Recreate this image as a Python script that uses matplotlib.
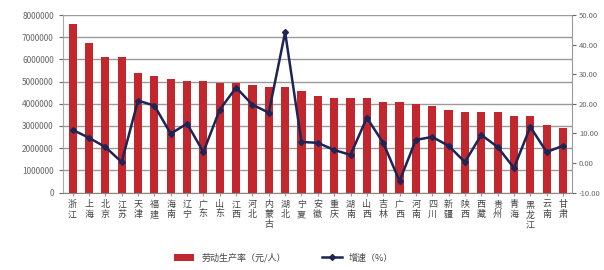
import matplotlib.pyplot as plt
from matplotlib.ticker import FuncFormatter

plt.rcParams['font.family'] = ['Noto Sans CJK SC', 'DejaVu Sans']

# 省份（按柱高降序）
provinces = ['浙江', '上海', '北京', '江苏', '天津', '福建', '海南', '辽宁',
             '广东', '山东', '江西', '河北', '内蒙古', '湖北', '宁夏', '安徽',
             '重庆', '湖南', '山西', '吉林', '广西', '河南', '四川', '新疆',
             '陕西', '西藏', '贵州', '青海', '黑龙江', '云南', '甘肃']

productivity = [7590000, 6730000, 6090000, 6090000, 5370000, 5240000, 5100000,
                5010000, 5010000, 4960000, 4960000, 4870000, 4780000, 4740000,
                4600000, 4370000, 4280000, 4240000, 4240000, 4100000, 4060000,
                4010000, 3880000, 3740000, 3650000, 3650000, 3650000, 3470000,
                3470000, 3060000, 2920000]

growth = [11.2, 8.5, 5.4, 0.3, 21.1, 19.4, 9.9, 13.3, 3.7, 18.0, 25.5, 19.7,
          17.0, 44.2, 7.1, 6.8, 4.4, 2.7, 15.3, 6.8, -6.1, 7.8, 8.8, 5.8, 0.3,
          9.5, 5.4, -1.7, 12.2, 3.7, 5.8]

bar_label = '劳动生产率（元/人）'
line_label = '增速（%）'

fig = plt.figure(figsize=(6.04, 2.70), dpi=100)
ax = fig.add_axes([0.104, 0.287, 0.843, 0.657])
x = list(range(len(provinces)))

ax.bar(x, productivity, width=0.5, color='#c1272d', label=bar_label, zorder=2)
ax.set_ylim(0, 8000000)
ax.set_yticks(range(0, 8000001, 1000000))
ax.yaxis.set_major_formatter(FuncFormatter(lambda v, p: f'{int(v)}'))
ax.set_xlim(-0.6, 30.55)
ax.grid(axis='y', color='#9a9a9a', linewidth=1.0, zorder=0)
ax.tick_params(axis='y', labelsize=6, colors='#666666', length=3)
ax.tick_params(axis='x', length=2, colors='#999999')
ax.set_xticks(x)
ax.set_xticklabels(['\n'.join(p) for p in provinces], fontsize=6.5,
                   color='#444444', linespacing=1.15, va='top')
for s in ['top', 'right']:
    ax.spines[s].set_visible(False)
ax.spines['left'].set_color('#aaaaaa')
ax.spines['bottom'].set_color('#888888')

ax2 = ax.twinx()
ax2.plot(x, growth, color='#1c2556', linewidth=1.8, marker='D',
         markersize=3, label=line_label, zorder=3)
ax2.set_ylim(-10, 50)
ax2.set_yticks(range(-10, 51, 10))
ax2.set_yticklabels([f'{v:.2f}' for v in range(-10, 51, 10)])
ax2.tick_params(axis='y', labelsize=5.5, colors='#666666', length=3, pad=2)
for s in ['top', 'left', 'bottom']:
    ax2.spines[s].set_visible(False)
ax2.spines['right'].set_color('#999999')

h1, l1 = ax.get_legend_handles_labels()
h2, l2 = ax2.get_legend_handles_labels()
fig.legend(h1 + h2, l1 + l2, loc='center', bbox_to_anchor=(0.47, 0.045),
           ncol=2, frameon=False, fontsize=6.5, handlelength=2.2,
           columnspacing=4, labelcolor='#444444')

fig.savefig('out.png', dpi=100)
